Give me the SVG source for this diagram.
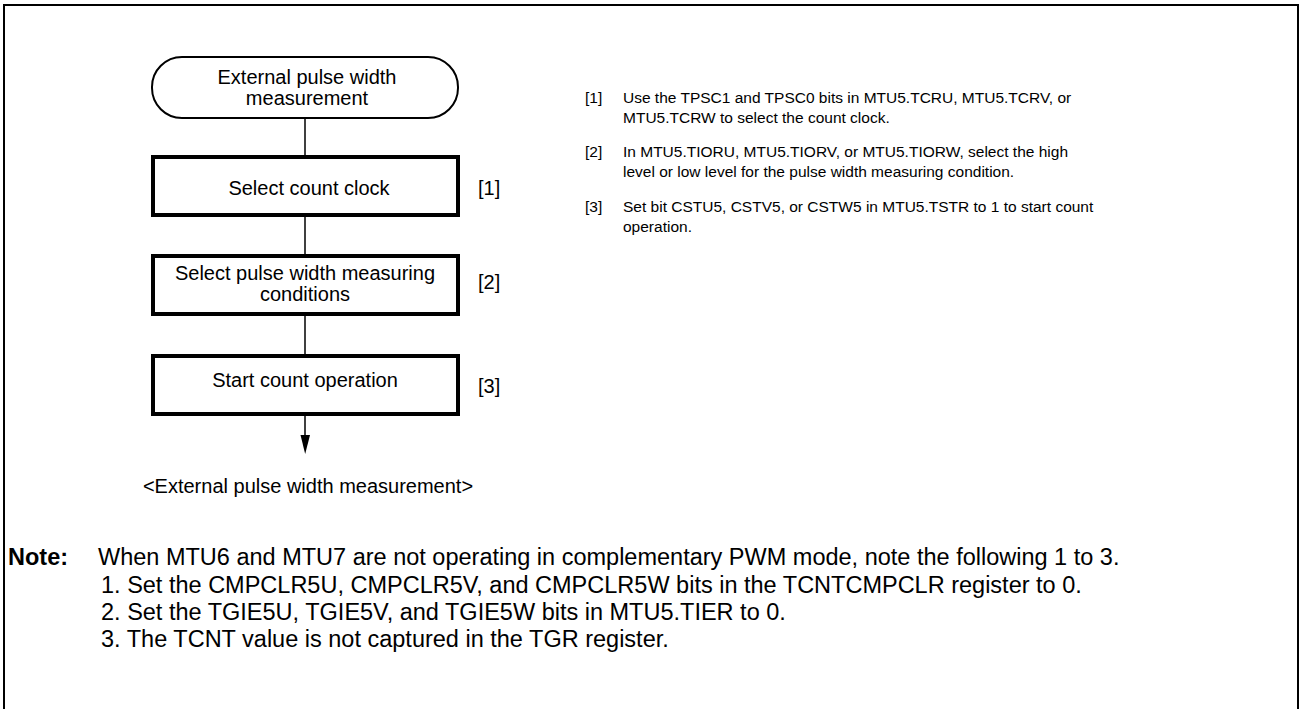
<svg xmlns="http://www.w3.org/2000/svg" width="1300" height="709" viewBox="0 0 1300 709">
<style>
text{font-family:"Liberation Sans",Arial,sans-serif;fill:#000}
.fc{font-size:20px;text-anchor:middle}
.lb{font-size:20px}
.desc{font-size:15.5px}
.note{font-size:23.5px}
.box{fill:#fff;stroke:#000;stroke-width:4}
.term{fill:#fff;stroke:#000;stroke-width:2}
.conn{stroke:#000;stroke-width:1.5;fill:none}
</style>
<rect x="4" y="5" width="1294" height="720" fill="none" stroke="#000" stroke-width="2"/>
<g id="connectors">
<line class="conn" x1="305" y1="118" x2="305" y2="156"/>
<line class="conn" x1="305" y1="216" x2="305" y2="255"/>
<line class="conn" x1="305" y1="315" x2="305" y2="355"/>
<line class="conn" x1="305" y1="415" x2="305" y2="436"/>
<path d="M300.5,435 L310,435 L305.2,454 Z" fill="#000"/>
</g>
<g id="start">
<rect class="term" x="152" y="57" width="306" height="61" rx="30" ry="30"/>
<text class="fc" x="307" y="84">External pulse width</text>
<text class="fc" x="307" y="105">measurement</text>
</g>
<g id="step1">
<rect class="box" x="153" y="157" width="305" height="58"/>
<text class="fc" x="309" y="195">Select count clock</text>
<text class="lb" x="478" y="195">[1]</text>
</g>
<g id="step2">
<rect class="box" x="153" y="256" width="305" height="58"/>
<text class="fc" x="305" y="280">Select pulse width measuring</text>
<text class="fc" x="305" y="301">conditions</text>
<text class="lb" x="478" y="289">[2]</text>
</g>
<g id="step3">
<rect class="box" x="153" y="356" width="305" height="58"/>
<text class="fc" x="305" y="387">Start count operation</text>
<text class="lb" x="478" y="393">[3]</text>
</g>
<g id="caption">
<text class="fc" x="308" y="493">&lt;External pulse width measurement&gt;</text>
</g>
<g id="descriptions">
<text class="desc" x="585" y="103">[1]</text>
<text class="desc" x="623" y="103">Use the TPSC1 and TPSC0 bits in MTU5.TCRU, MTU5.TCRV, or</text>
<text class="desc" x="623" y="123">MTU5.TCRW to select the count clock.</text>
<text class="desc" x="585" y="157">[2]</text>
<text class="desc" x="623" y="157">In MTU5.TIORU, MTU5.TIORV, or MTU5.TIORW, select the high</text>
<text class="desc" x="623" y="177">level or low level for the pulse width measuring condition.</text>
<text class="desc" x="585" y="212">[3]</text>
<text class="desc" x="623" y="212">Set bit CSTU5, CSTV5, or CSTW5 in MTU5.TSTR to 1 to start count</text>
<text class="desc" x="623" y="232">operation.</text>
</g>
<g id="note">
<text class="note" x="8" y="565" font-weight="bold">Note:</text>
<text class="note" x="98" y="565">When MTU6 and MTU7 are not operating in complementary PWM mode, note the following 1 to 3.</text>
<text class="note" x="101" y="593">1. Set the CMPCLR5U, CMPCLR5V, and CMPCLR5W bits in the TCNTCMPCLR register to 0.</text>
<text class="note" x="101" y="620">2. Set the TGIE5U, TGIE5V, and TGIE5W bits in MTU5.TIER to 0.</text>
<text class="note" x="101" y="647">3. The TCNT value is not captured in the TGR register.</text>
</g>
</svg>
